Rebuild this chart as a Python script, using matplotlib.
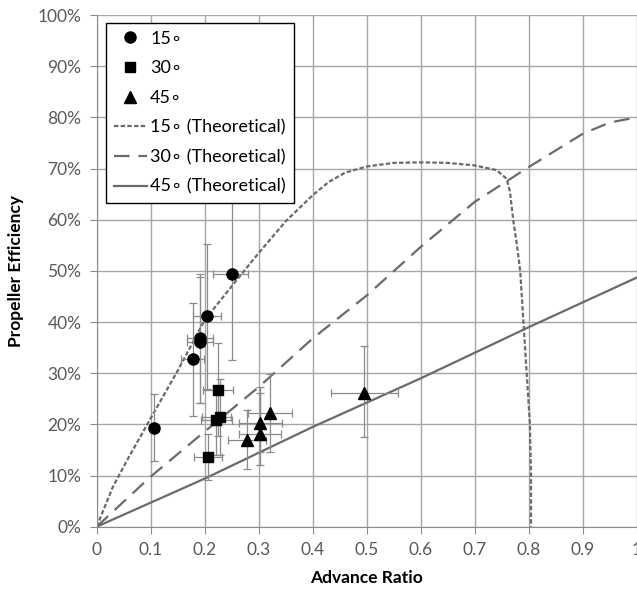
import numpy as np
import matplotlib
matplotlib.use("Agg")
import matplotlib.pyplot as plt
from matplotlib.ticker import PercentFormatter

plt.rcParams['font.family'] = ['Lato', 'DejaVu Sans']

# measured points (advance ratio, efficiency) with error bar limits
x15 = [0.107, 0.178, 0.192, 0.192, 0.204, 0.250]
y15 = [0.193, 0.327, 0.368, 0.361, 0.412, 0.493]
y15_lo = [0.128, 0.216, 0.241, 0.241, 0.270, 0.326]
y15_hi = [0.259, 0.437, 0.493, 0.488, 0.553, 0.660]
x15_lo = [0.099, 0.156, 0.167, 0.167, 0.178, 0.216]
x15_hi = [0.115, 0.199, 0.215, 0.215, 0.230, 0.281]

x30 = [0.206, 0.221, 0.228, 0.224]
y30 = [0.137, 0.208, 0.215, 0.267]
y30_lo = [0.091, 0.140, 0.140, 0.178]
y30_hi = [0.182, 0.275, 0.288, 0.359]
x30_lo = [0.181, 0.193, 0.195, 0.196]
x30_hi = [0.232, 0.250, 0.249, 0.253]

x45 = [0.278, 0.303, 0.303, 0.320, 0.494]
y45 = [0.169, 0.181, 0.203, 0.223, 0.262]
y45_lo = [0.112, 0.120, 0.145, 0.146, 0.176]
y45_hi = [0.228, 0.262, 0.273, 0.298, 0.353]
x45_lo = [0.244, 0.264, 0.264, 0.280, 0.433]
x45_hi = [0.313, 0.341, 0.343, 0.362, 0.557]

# theoretical curves
th15_x = [0, 0.03, 0.06, 0.10, 0.15, 0.20, 0.25, 0.30, 0.35, 0.40, 0.43, 0.46, 0.50,
          0.55, 0.60, 0.65, 0.70, 0.74, 0.759, 0.765, 0.771, 0.778, 0.784, 0.790,
          0.796, 0.802, 0.804, 0.804]
th15_y = [0, 0.078, 0.137, 0.212, 0.305, 0.404, 0.470, 0.535, 0.597, 0.648, 0.674,
          0.692, 0.704, 0.711, 0.712, 0.711, 0.706, 0.697, 0.680, 0.655, 0.600, 0.550,
          0.500, 0.400, 0.300, 0.200, 0.100, 0.0]
th30_x = [0, 0.1, 0.2, 0.3, 0.4, 0.5, 0.6, 0.7, 0.8, 0.9, 0.95, 1.0]
th30_y = [0, 0.098, 0.186, 0.273, 0.368, 0.452, 0.547, 0.635, 0.703, 0.768, 0.790, 0.800]
th45_x = [0, 0.2, 0.4, 0.6, 0.8, 1.0]
th45_y = [0, 0.094, 0.195, 0.290, 0.390, 0.487]

labels = ['15\u2218', '30\u2218', '45\u2218']


def err(v, lo, hi):
    v = np.array(v)
    return [v - np.array(lo), np.array(hi) - v]


fig = plt.figure(figsize=(6.37, 5.96), dpi=100)
ax = fig.add_axes([0.1518, 0.1163, 0.848, 0.8585])

line_col = '#6a6a6a'
ebar_col = '#8a8a8a'

for xs, ys, xl, xh, yl, yh in [(x15, y15, x15_lo, x15_hi, y15_lo, y15_hi),
                               (x30, y30, x30_lo, x30_hi, y30_lo, y30_hi),
                               (x45, y45, x45_lo, x45_hi, y45_lo, y45_hi)]:
    ax.errorbar(xs, ys, xerr=err(xs, xl, xh), yerr=err(ys, yl, yh), fmt='none',
                ecolor=ebar_col, elinewidth=0.9, capsize=3, capthick=0.9, zorder=3)

h1, = ax.plot(x15, y15, 'o', color='black', ms=8, ls='none', zorder=4)
h2, = ax.plot(x30, y30, 's', color='black', ms=7.5, ls='none', zorder=4)
h3, = ax.plot(x45, y45, '^', color='black', ms=8, ls='none', zorder=4)

h4, = ax.plot(th15_x, th15_y, color=line_col, lw=1.6, dashes=(2, 1), zorder=2)
h5, = ax.plot(th30_x, th30_y, color=line_col, lw=1.6, dashes=(7, 4), zorder=2)
h6, = ax.plot(th45_x, th45_y, color=line_col, lw=1.6, zorder=2)

ax.set_xlim(0, 1)
ax.set_ylim(0, 1)
ax.set_xticks(np.arange(0, 1.01, 0.1))
ax.set_xticklabels(['0', '0.1', '0.2', '0.3', '0.4', '0.5', '0.6', '0.7', '0.8', '0.9', '1'])
ax.set_yticks(np.arange(0, 1.01, 0.1))
ax.yaxis.set_major_formatter(PercentFormatter(1.0, decimals=0))
ax.grid(True, color='#a6a6a6', lw=1.0, zorder=0)
ax.set_axisbelow(True)
for s in ['top', 'right']:
    ax.spines[s].set_visible(False)
for s in ['left', 'bottom']:
    ax.spines[s].set_color('#8c8c8c')
ax.tick_params(length=5, color='#8c8c8c', labelsize=12.5, labelcolor='#595959', pad=6)

ax.set_xlabel('Advance Ratio', fontsize=12.5, fontweight='bold', labelpad=9)
ax.set_ylabel('Propeller Efficiency', fontsize=12.5, fontweight='bold', labelpad=10)

leg = ax.legend([h1, h2, h3, h4, h5, h6],
                labels + [l + ' (Theoretical)' for l in labels],
                loc='upper left', bbox_to_anchor=(0.017, 0.985), borderaxespad=0,
                fontsize=13, frameon=True, fancybox=False, numpoints=1,
                handlelength=1.8, handletextpad=0.2, labelspacing=0.75,
                borderpad=0.45)
leg.get_frame().set_edgecolor('black')
leg.get_frame().set_linewidth(1.0)
leg.get_frame().set_alpha(1)

fig.savefig('out.png', dpi=100)
